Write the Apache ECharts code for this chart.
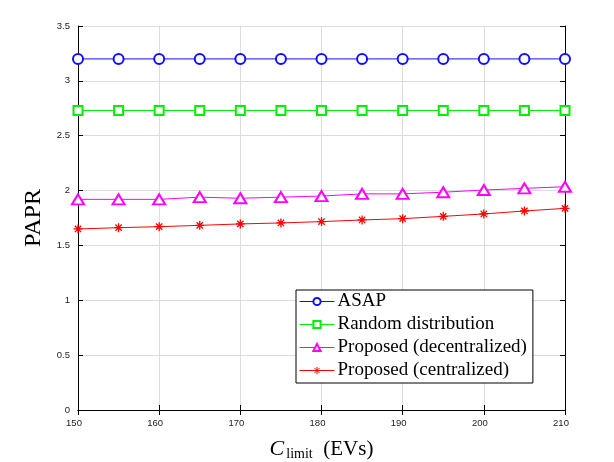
<!DOCTYPE html>
<html><head><meta charset="utf-8">
<script src="https://cdn.jsdelivr.net/npm/echarts@6/dist/echarts.min.js"></script>
<style>html,body{margin:0;padding:0;background:#fff}#c{width:614px;height:462px}</style>
</head><body><div id="c"></div>
<script>
const xValues = [150,155,160,165,170,175,180,185,190,195,200,205,210];
const asap = [3.2,3.2,3.2,3.2,3.2,3.2,3.2,3.2,3.2,3.2,3.2,3.2,3.2];
const randomDist = [2.73,2.73,2.73,2.73,2.73,2.73,2.73,2.73,2.73,2.73,2.73,2.73,2.73];
const decentralized = [1.92,1.92,1.92,1.94,1.93,1.94,1.95,1.97,1.97,1.985,2.005,2.02,2.035];
const centralized = [1.65,1.662,1.671,1.683,1.696,1.705,1.717,1.732,1.744,1.765,1.787,1.814,1.838];
const seriesNames = ['ASAP','Random distribution','Proposed (decentralized)','Proposed (centralized)'];

const pair = arr => xValues.map((x,i)=>[x,arr[i]]);
const star = 'path://M0,5L10,5M5,0L5,10M1.5,1.5L8.5,8.5M8.5,1.5L1.5,8.5';
const tickFont = {fontFamily:'Liberation Sans, Arial, sans-serif', fontSize:9.5, color:'#222'};
const chart = echarts.init(document.getElementById('c'));
function mk(name, data, color, symbol, size, bw){
  return {name, type:'line', data:pair(data), symbol, symbolSize:size,
    showSymbol:true, itemStyle:{color, borderColor:color, borderWidth:bw},
    lineStyle:{color, width:1}, animation:false, z:3};
}
chart.setOption({
  animation:false,
  grid:{left:78, right:49, top:26, bottom:52, outerBoundsMode:'none', containLabel:false},
  legend:{
    orient:'vertical', left:296, top:290,
    data:seriesNames,
    backgroundColor:'#fff', borderColor:'#000', borderWidth:1,
    padding:[2,6,3,3], itemWidth:35, itemHeight:9, itemGap:4,
    lineStyle:{width:1}, itemStyle:{borderWidth:1},
    textStyle:{fontFamily:'Liberation Serif, Times New Roman, serif', fontSize:19, lineHeight:19, color:'#000', padding:[0,0,0,-2]}
  },
  xAxis:[{
    type:'value', min:150, max:210, interval:10,
    axisLine:{show:true, lineStyle:{color:'#000', width:1}},
    axisTick:{inside:true, length:5, lineStyle:{color:'#000'}},
    axisLabel:Object.assign({margin:8, padding:[0,8,0,0]}, tickFont),
    splitLine:{show:true, lineStyle:{color:'#dcdcdc', width:1}},
    name:'{c|C}{s|limit}{n|  (EVs)}', nameLocation:'middle', nameGap:27,
    nameTextStyle:{rich:{
      c:{fontFamily:'Liberation Serif, serif', fontStyle:'italic', fontSize:22, color:'#000'},
      s:{fontFamily:'Liberation Serif, serif', fontSize:14, color:'#000', padding:[10,0,0,2]},
      n:{fontFamily:'Liberation Serif, serif', fontSize:21, color:'#000'}
    }}
  },{
    type:'value', position:'top', min:150, max:210, interval:10,
    axisLine:{show:true, lineStyle:{color:'#000'}},
    axisTick:{inside:true, length:5, lineStyle:{color:'#000'}},
    axisLabel:{show:false}, splitLine:{show:false}
  }],
  yAxis:[{
    type:'value', min:0, max:3.5, interval:0.5,
    axisLine:{show:true, lineStyle:{color:'#000'}},
    axisTick:{inside:true, length:5, lineStyle:{color:'#000'}},
    axisLabel:Object.assign({margin:8, padding:[0,0,6,0]}, tickFont),
    splitLine:{show:true, lineStyle:{color:'#dcdcdc', width:1}},
    name:'PAPR', nameLocation:'middle', nameGap:26,
    nameTextStyle:{fontFamily:'Liberation Serif, serif', fontSize:24, color:'#000'}
  },{
    type:'value', position:'right', min:0, max:3.5, interval:0.5,
    axisLine:{show:true, lineStyle:{color:'#000'}},
    axisTick:{inside:true, length:5, lineStyle:{color:'#000'}},
    axisLabel:{show:false}, splitLine:{show:false}
  }],
  series:[
    mk(seriesNames[0], asap, '#1010ff', 'emptyCircle', 10, 1),
    mk(seriesNames[1], randomDist, '#00ee00', 'emptyRect', 9, 1),
    mk(seriesNames[2], decentralized, '#ff00ff', 'emptyTriangle', [12,10], 1),
    mk(seriesNames[3], centralized, '#ff0000', star, 9, 1.3)
  ]
});
</script></body></html>
